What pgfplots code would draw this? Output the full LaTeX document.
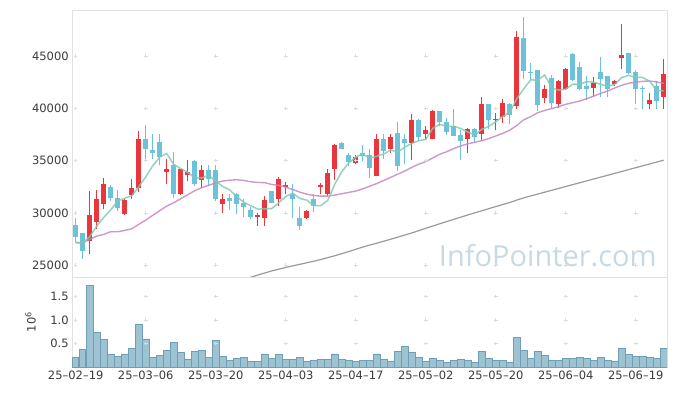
\documentclass[border=0pt]{standalone}
\usepackage{fontspec}
\setmainfont{DejaVu Sans}
\newfontfamily\wmfont{Open Sans}
\usepackage{pgfplots}
\usepackage{pgfplotstable}
\pgfplotsset{compat=1.18}
\definecolor{upc}{HTML}{E8363C}
\definecolor{dnc}{HTML}{6CC3D9}
\definecolor{ma5c}{HTML}{80CAB6}
\definecolor{ma20c}{HTML}{C886C0}
\definecolor{ma120c}{HTML}{9A9A9A}
\definecolor{volf}{HTML}{9DC3D3}
\definecolor{vole}{HTML}{6E9FB6}
\definecolor{framec}{HTML}{E2E2E2}
\definecolor{gridc}{HTML}{DCDCDC}
\definecolor{labc}{HTML}{3A3A3A}
\definecolor{wmc}{HTML}{C8D9E3}

\pgfplotstableread{
x o h l c
2 27300 32050 26090 29760
3 29120 32150 28480 31290
4 30810 33360 30400 32720
7 29920 31290 29820 31190
8 31670 33270 31350 32410
9 32410 37820 31990 37030
13 33900 35180 32790 34160
15 31830 34160 31740 34160
16 33650 35050 33040 33900
18 33170 34540 32410 34060
21 30810 31770 30010 31350
26 29590 30010 28730 29760
27 29540 31600 28730 31190
29 31350 33420 30650 33270
30 32440 32940 31770 32630
33 29540 30260 29440 30140
35 32460 32820 31770 32630
36 31830 34160 31600 33780
37 34230 36620 33130 36460
40 34800 35500 34640 35370
43 33520 37510 33520 37100
45 36070 37510 35760 37290
48 36710 39490 35050 38850
50 37580 38300 36930 37890
51 37030 39830 37030 39710
56 37030 38150 35760 38050
58 37510 41120 36960 40380
60 38850 39580 37890 39010
61 39160 40920 38630 40540
63 40220 47390 39970 46790
67 40980 42260 40480 41880
69 40450 42670 40000 42610
70 41810 43890 41750 43800
74 41940 43030 41120 42390
77 42290 42700 42130 42610
78 44780 48040 43730 45100
82 40380 41500 39970 40790
84 41080 44750 39970 43250
}\up

\pgfplotstableread{
x o h l c
0 28800 29540 27200 27720
1 28100 28100 25610 26340
5 32440 32690 31120 31380
6 31450 32150 30170 30430
10 37030 38370 34950 36140
11 35980 37580 35180 35720
12 36740 37580 34540 35340
14 34610 35810 31420 31830
17 34920 35020 32560 32720
19 34090 34570 32560 33200
20 34090 34570 31120 31290
22 31450 31770 30240 31120
23 31770 31930 29920 30810
24 30900 31290 29630 30550
25 30240 30550 29370 29590
28 32050 32050 30900 30970
31 31830 32720 29540 31350
32 29540 30590 28320 28730
34 31350 31770 30070 30650
38 36710 36740 36140 36140
39 35500 35690 34470 34860
41 35690 36460 34950 35430
42 35500 36070 33360 34320
44 37100 37510 35180 35910
46 37670 38720 34000 34470
47 37030 37580 34640 36650
49 38850 38940 36930 37250
52 39710 39710 38300 38690
53 38720 39110 37410 37730
54 38300 39900 37350 37350
55 37410 37890 35050 36870
57 38050 38150 36770 37250
59 40380 40380 37990 38850
62 40450 40540 38470 39330
64 46760 48770 42770 43570
65 43510 44300 42700 43410
66 43630 43630 39740 40280
68 42930 43190 40030 40540
71 45160 45260 42610 42700
72 43950 44430 41720 41810
73 42100 43090 40790 41810
75 43470 44940 41120 42770
76 43090 43090 41120 41810
79 45330 45330 43250 43410
80 43470 43630 40450 41810
81 41980 42130 39970 41810
83 42130 42610 39900 40700
}\down

\pgfplotstableread{
x ma5 ma20 vol
0 27200 27140 0.21
1 27140 27140 0.37
2 27720 27460 1.74
3 28730 27780 0.73
4 29566 27940 0.58
5 30298 28200 0.26
6 31116 28200 0.22
7 31402 28320 0.28
8 31626 28480 0.39
9 32488 28900 0.90
10 33440 29310 0.60
11 34498 29760 0.20
12 35328 30210 0.24
13 35678 30650 0.35
14 34638 30970 0.52
15 34242 31350 0.31
16 33878 31740 0.16
17 33354 32120 0.33
18 33334 32410 0.35
19 33608 32630 0.20
20 33034 32890 0.56
21 32524 33040 0.22
22 32204 33130 0.14
23 31554 33170 0.18
24 31024 33100 0.20
25 30684 32980 0.12
26 30366 32910 0.12
27 30380 32890 0.28
28 30412 32720 0.18
29 30956 32630 0.26
30 31564 32460 0.16
31 31882 32240 0.16
32 31390 31990 0.20
33 31224 31790 0.12
34 30700 31670 0.14
35 30700 31600 0.16
36 31186 31600 0.16
37 32732 31700 0.28
38 33932 31830 0.16
39 34774 31960 0.14
40 35322 32080 0.12
41 35652 32300 0.14
42 35224 32550 0.14
43 35416 32800 0.28
44 35626 33100 0.16
45 36010 33400 0.12
46 35818 33700 0.33
47 36284 34000 0.45
48 36634 34350 0.31
49 36902 34650 0.20
50 37022 34900 0.12
51 38070 35250 0.18
52 38478 35600 0.14
53 38254 35850 0.09
54 38274 36150 0.14
55 38070 36400 0.16
56 37738 36600 0.14
57 37450 36750 0.09
58 37980 36900 0.33
59 38280 37100 0.18
60 38708 37350 0.14
61 39206 37600 0.14
62 39622 37900 0.09
63 40904 38350 0.64
64 41848 38900 0.35
65 42728 39200 0.18
66 42676 39580 0.33
67 43186 39800 0.24
68 41936 39970 0.14
69 41744 40160 0.14
70 41822 40380 0.18
71 42306 40540 0.18
72 42292 40690 0.20
73 42546 40920 0.18
74 42502 41170 0.14
75 42296 41430 0.20
76 42118 41650 0.14
77 42278 41940 0.12
78 42936 42200 0.39
79 43140 42390 0.26
80 42948 42510 0.22
81 42948 42580 0.22
82 42584 42610 0.20
83 41704 42510 0.18
84 41672 42390 0.39
}\daily

\pgfplotstableread{
x ma
24 23650
25 23850
26 24050
27 24250
28 24450
29 24620
30 24780
31 24930
32 25080
33 25230
34 25380
35 25540
36 25720
37 25900
38 26100
39 26300
40 26520
41 26730
42 26920
43 27100
44 27290
45 27480
46 27680
47 27880
48 28080
49 28300
50 28520
51 28740
52 28960
53 29170
54 29380
55 29590
56 29800
57 30000
58 30200
59 30400
60 30600
61 30800
62 30990
63 31220
64 31440
65 31620
66 31800
67 31980
68 32160
69 32340
70 32520
71 32700
72 32880
73 33060
74 33240
75 33420
76 33600
77 33780
78 33960
79 34140
80 34320
81 34500
82 34680
83 34860
84 35040
}\malong

\pgfplotsset{
  candle/.style 2 args={only marks, mark=*, mark size=0pt, mark options={draw=none, fill=none}, forget plot,
    error bars/.cd, y dir=plus, y explicit, error mark=none, error bar style={line width=#1, draw=#2}},
}

\begin{document}
\begin{tikzpicture}
\begin{axis}[
  name=main, at={(0,0)}, anchor=south west, scale only axis,
  width=595pt, height=267pt,
  xmin=-0.5, xmax=84.5, ymin=23870, ymax=49400,
  axis line style={draw=framec, line width=0.8pt},
  xtick=\empty, ytick={25000,30000,35000,40000,45000},
  scaled y ticks=false,
  tick style={draw=none},
  yticklabel style={font=\fontsize{11.5}{13}\selectfont, text=labc},
  /pgf/number format/1000 sep={},
  /pgf/number format/assume math mode=true,
]
\addplot[only marks, mark=+, mark size=1.8pt, mark options={draw=gridc, line width=0.7pt}, forget plot] coordinates {
(0,25000)(10,25000)(20,25000)(30,25000)(40,25000)(50,25000)(60,25000)(70,25000)(80,25000)
(0,30000)(10,30000)(20,30000)(30,30000)(40,30000)(50,30000)(60,30000)(70,30000)(80,30000)
(0,35000)(10,35000)(20,35000)(30,35000)(40,35000)(50,35000)(60,35000)(70,35000)(80,35000)
(0,40000)(10,40000)(20,40000)(30,40000)(40,40000)(50,40000)(60,40000)(70,40000)(80,40000)
(0,45000)(10,45000)(20,45000)(30,45000)(40,45000)(50,45000)(60,45000)(70,45000)(80,45000)
};
\node[font=\wmfont\fontsize{29}{29}\selectfont, text=wmc, anchor=east] at (axis cs:83.5,25950) {InfoPointer.com};
% gray long MA
\addplot[ma120c, line width=1.2pt, forget plot] table[x=x, y=ma] {\malong};
% wicks
\addplot[candle={1.3pt}{upc}]
  table[x=x, y=l, y error plus expr=\thisrow{h}-\thisrow{l}] {\up};
\addplot[candle={1.3pt}{dnc}]
  table[x=x, y=l, y error plus expr=\thisrow{h}-\thisrow{l}] {\down};
% bodies
\addplot[candle={5pt}{upc}]
  table[x=x, y=o, y error plus expr={max(\thisrow{c}-\thisrow{o},90)}] {\up};
\addplot[candle={5pt}{dnc}]
  table[x=x, y=c, y error plus expr={max(\thisrow{o}-\thisrow{c},90)}] {\down};
% moving averages
\addplot[ma20c, line width=1.4pt, opacity=0.85, forget plot] table[x=x, y=ma20] {\daily};
\addplot[ma5c, line width=1.5pt, opacity=0.85, forget plot] table[x=x, y=ma5] {\daily};
\end{axis}

\begin{axis}[
  at={(0,0)}, anchor=north west, scale only axis,
  width=595pt, height=90pt,
  xmin=-0.5, xmax=84.5, ymin=0, ymax=1.92,
  axis line style={draw=framec, line width=0.8pt},
  tick style={draw=none},
  xtick={0,10,20,30,40,50,60,70,80},
  xticklabels={25\textendash02\textendash19,25\textendash03\textendash06,25\textendash03\textendash20,25\textendash04\textendash03,25\textendash04\textendash17,25\textendash05\textendash02,25\textendash05\textendash20,25\textendash06\textendash04,25\textendash06\textendash19},
  ytick={0.5,1,1.5},
  xticklabel style={font=\fontsize{11.5}{13}\selectfont, text=labc},
  yticklabel style={font=\fontsize{11.5}{13}\selectfont, text=labc, /pgf/number format/.cd, fixed, fixed zerofill, precision=1},
  /pgf/number format/assume math mode=true,
  ylabel={10\textsuperscript{6}},
  ylabel style={at={(axis description cs:-0.07,0.5)}, anchor=center, font=\fontsize{11.5}{13}\selectfont, text=labc},
]
\addplot[only marks, mark=+, mark size=1.8pt, mark options={draw=gridc, line width=0.7pt}, forget plot] coordinates {
(0,0.5)(10,0.5)(20,0.5)(30,0.5)(40,0.5)(50,0.5)(60,0.5)(70,0.5)(80,0.5)
(0,1)(10,1)(20,1)(30,1)(40,1)(50,1)(60,1)(70,1)(80,1)
(0,1.5)(10,1.5)(20,1.5)(30,1.5)(40,1.5)(50,1.5)(60,1.5)(70,1.5)(80,1.5)
};
\addplot[ybar, bar width=6.3pt, fill=volf, draw=vole, line width=0.7pt, forget plot] table[x=x, y=vol] {\daily};
\end{axis}
\path[use as bounding box] (-72.2pt,-119pt) rectangle (604.8pt,277pt);
\end{tikzpicture}
\end{document}
